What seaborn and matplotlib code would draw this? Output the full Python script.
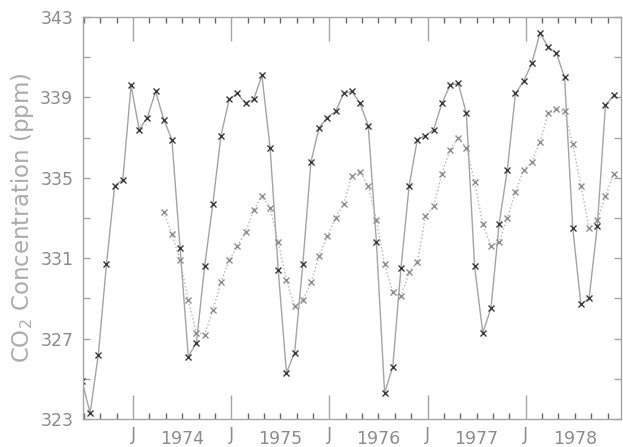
import numpy as np
import pandas as pd
import matplotlib
matplotlib.use("Agg")
import matplotlib.pyplot as plt
import matplotlib.transforms as mtransforms
import seaborn as sns

# monthly CO2 values (month index 0 = Jan 1974)
solid_months = list(range(-6, 60))
solid_ppm = [324.9, 323.3, 326.2, 330.7, 334.6, 334.9,
             339.6, 337.4, 338.0, 339.3, 337.9, 336.9, 331.5, 326.1, 326.8, 330.6, 333.7, 337.1,
             338.9, 339.2, 338.7, 338.9, 340.1, 336.5, 330.4, 325.3, 326.3, 330.7, 335.8, 337.5,
             338.0, 338.3, 339.2, 339.3, 338.7, 337.6, 331.8, 324.3, 325.6, 330.5, 334.6, 336.9,
             337.1, 337.4, 338.7, 339.6, 339.7, 338.2, 330.6, 327.3, 328.5, 332.7, 335.4, 339.2,
             339.8, 340.7, 342.2, 341.5, 341.2, 340.0, 332.5, 328.7, 329.0, 332.6, 338.6, 339.1]

dotted_months = list(range(4, 60))
dotted_ppm = [333.3, 332.2, 330.9, 328.9, 327.3, 327.2, 328.4, 329.8,
              330.9, 331.6, 332.3, 333.4, 334.1, 333.5, 331.8, 329.9, 328.6, 328.9, 329.8, 331.1,
              332.1, 333.0, 333.7, 335.1, 335.3, 334.6, 332.9, 330.7, 329.3, 329.1, 330.3, 330.8,
              333.1, 333.6, 335.2, 336.4, 337.0, 336.5, 334.8, 332.7, 331.6, 331.8, 333.0, 334.3,
              335.4, 335.8, 336.8, 338.2, 338.4, 338.3, 336.7, 334.6, 332.5, 332.9, 334.1, 335.2]

years = ["1974", "1975", "1976", "1977", "1978"]

df_solid = pd.DataFrame({"month": solid_months, "ppm": solid_ppm})
df_dotted = pd.DataFrame({"month": dotted_months, "ppm": dotted_ppm})

sns.set_style("ticks")
plt.rcParams["font.family"] = ["DejaVu Sans"]

fig = plt.figure(figsize=(6.23, 4.47), dpi=100)
ax = fig.add_axes([83 / 623, 1 - 419 / 447, 538 / 623, 402 / 447])

sns.lineplot(data=df_solid, x="month", y="ppm", ax=ax, color="#a4a4a4", linewidth=1.0,
             marker="x", markersize=4.5, markeredgewidth=1.0, markeredgecolor="#3a3a3a")
sns.lineplot(data=df_dotted, x="month", y="ppm", ax=ax, color="#b4b4b4", linewidth=1.0,
             linestyle=":", marker="x", markersize=4.5, markeredgewidth=1.0,
             markeredgecolor="#8e8e8e")

ax.set_xlim(-5.87, 59.9)
ax.set_ylim(323, 343)

# J ticks (January) and two-month minor ticks
jan = [0.25 + 12 * k for k in range(5)]
ax.set_xticks(jan)
ax.set_xticklabels(["J"] * 5)
ax.set_xticks([-5.75 + 2 * k for k in range(33)], minor=True)

ax.set_yticks([323, 327, 331, 335, 339, 343])
ax.set_yticks(np.arange(323, 344, 2), minor=True)

grey = "#8c8c8c"
ax.tick_params(axis="x", which="major", direction="in", length=17, width=1, top=True,
               bottom=True, color="#a4a4a4", labelsize=12.5, labelcolor=grey, pad=5)
ax.tick_params(axis="x", which="minor", direction="in", length=4, width=1, top=True,
               bottom=True, color="#666666")
ax.tick_params(axis="y", which="both", direction="in", length=5, width=1, left=True,
               right=True, color="#a4a4a4", labelsize=12.5, labelcolor=grey, pad=7)

trans = mtransforms.blended_transform_factory(ax.transData, ax.transAxes)
for k, yr in enumerate(years):
    ax.text(6.25 + 12 * k, -0.028, yr, transform=trans, ha="center", va="top",
            fontsize=12.5, color=grey)

for side in ["left", "right", "top", "bottom"]:
    ax.spines[side].set_visible(True)
    ax.spines[side].set_color("#a4a4a4")
    ax.spines[side].set_linewidth(1.0)

ax.set_xlabel("")
ax.set_ylabel("CO$_2$ Concentration (ppm)", fontsize=16.5, color="#ababab", labelpad=3)

fig.savefig("out.png", dpi=100)
